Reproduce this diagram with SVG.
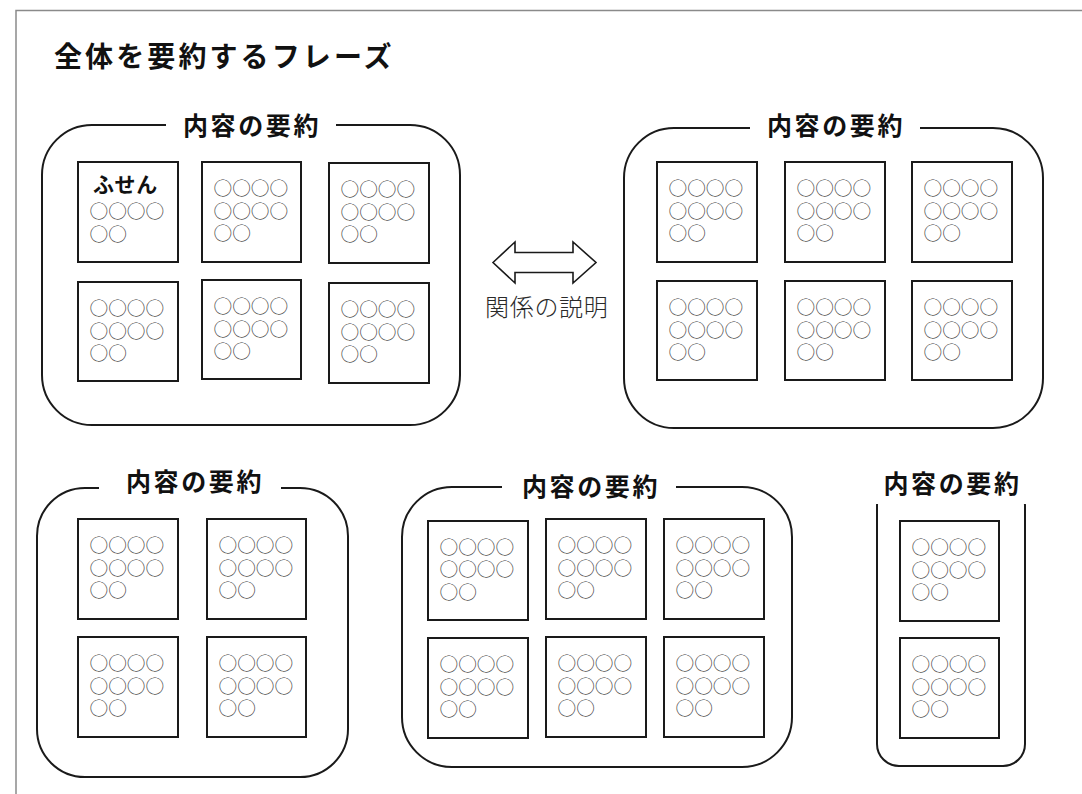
<svg xmlns="http://www.w3.org/2000/svg" width="1082" height="794" viewBox="0 0 1082 794">
<style>
  .frame { fill: none; stroke: #8a8a8a; stroke-width: 1.5; }
  .group { fill: none; stroke: #1a1a1a; stroke-width: 2; }
  .gap { fill: #ffffff; stroke: none; }
  .note { fill: #ffffff; stroke: #1a1a1a; stroke-width: 2; }
  .title { font-family: "Noto Sans CJK JP", "Noto Sans", sans-serif; font-size: 28px; font-weight: 700; fill: #111; letter-spacing: 3.1px; }
  .gtitle { font-family: "Noto Sans CJK JP", "Noto Sans", sans-serif; font-size: 25px; font-weight: 700; fill: #111; letter-spacing: 2.6px; text-anchor: middle; }
  .label { font-family: "Noto Sans CJK JP", "Noto Sans", sans-serif; font-size: 21px; font-weight: 700; fill: #111; letter-spacing: 0.6px; }
  .dots { font-family: "Noto Sans CJK JP", "Noto Sans", sans-serif; font-size: 18.7px; font-weight: 300; fill: #3a3a3a; }
  .rel { font-family: "Noto Sans CJK JP", "Noto Sans", sans-serif; font-size: 24px; font-weight: 300; fill: #2a2a2a; letter-spacing: 0.7px; }
  .arrow { fill: #ffffff; stroke: #1a1a1a; stroke-width: 1.6; stroke-linejoin: miter; }
</style>
<rect x="0" y="0" width="1082" height="794" fill="#ffffff"/>
<path class="frame" d="M16,794 L16,10.5 L1082,10.5"/>
<text class="title" x="54" y="66.5">全体を要約するフレーズ</text>

<g id="group1">
  <rect class="group" x="42" y="125" width="418" height="300" rx="50"/>
  <rect class="gap" x="166" y="110" width="170" height="30"/>
  <text class="gtitle" x="252" y="134.5">内容の要約</text>
  <g id="g1n1"><rect class="note" x="78" y="162" width="100" height="100"/>
    <text class="label" x="93" y="191.5">ふせん</text>
    <text class="dots" x="89.5" y="218">○○○○<tspan x="89.5" dy="22.5">○○</tspan></text></g>
  <g id="g1n2"><rect class="note" x="202" y="162" width="99" height="100"/>
    <text class="dots" x="213.5" y="195">○○○○<tspan x="213.5" dy="22.5">○○○○</tspan><tspan x="213.5" dy="22.5">○○</tspan></text></g>
  <g id="g1n3"><rect class="note" x="329" y="163" width="100" height="100"/>
    <text class="dots" x="340.5" y="196">○○○○<tspan x="340.5" dy="22.5">○○○○</tspan><tspan x="340.5" dy="22.5">○○</tspan></text></g>
  <g id="g1n4"><rect class="note" x="78" y="282" width="100" height="99"/>
    <text class="dots" x="89.5" y="315">○○○○<tspan x="89.5" dy="22.5">○○○○</tspan><tspan x="89.5" dy="22.5">○○</tspan></text></g>
  <g id="g1n5"><rect class="note" x="202" y="280" width="99" height="99"/>
    <text class="dots" x="213.5" y="313">○○○○<tspan x="213.5" dy="22.5">○○○○</tspan><tspan x="213.5" dy="22.5">○○</tspan></text></g>
  <g id="g1n6"><rect class="note" x="329" y="283" width="100" height="100"/>
    <text class="dots" x="340.5" y="316">○○○○<tspan x="340.5" dy="22.5">○○○○</tspan><tspan x="340.5" dy="22.5">○○</tspan></text></g>
</g>

<g id="connectors">
  <path class="arrow" d="M493,262.5 L515,242 L515,252.5 L573,252.5 L573,242 L596,262.5 L573,283 L573,272.5 L515,272.5 L515,283 Z"/>
  <text class="rel" x="485" y="315.5">関係の説明</text>
</g>

<g id="group2">
  <rect class="group" x="624" y="128" width="419" height="300" rx="50"/>
  <rect class="gap" x="750" y="112" width="170" height="30"/>
  <text class="gtitle" x="836" y="135">内容の要約</text>
  <g id="g2n1"><rect class="note" x="657" y="162" width="100" height="100"/>
    <text class="dots" x="668.5" y="195">○○○○<tspan x="668.5" dy="22.5">○○○○</tspan><tspan x="668.5" dy="22.5">○○</tspan></text></g>
  <g id="g2n2"><rect class="note" x="785" y="162" width="100" height="100"/>
    <text class="dots" x="796.5" y="195">○○○○<tspan x="796.5" dy="22.5">○○○○</tspan><tspan x="796.5" dy="22.5">○○</tspan></text></g>
  <g id="g2n3"><rect class="note" x="912" y="162" width="100" height="100"/>
    <text class="dots" x="923.5" y="195">○○○○<tspan x="923.5" dy="22.5">○○○○</tspan><tspan x="923.5" dy="22.5">○○</tspan></text></g>
  <g id="g2n4"><rect class="note" x="657" y="281" width="100" height="99"/>
    <text class="dots" x="668.5" y="314">○○○○<tspan x="668.5" dy="22.5">○○○○</tspan><tspan x="668.5" dy="22.5">○○</tspan></text></g>
  <g id="g2n5"><rect class="note" x="785" y="281" width="100" height="99"/>
    <text class="dots" x="796.5" y="314">○○○○<tspan x="796.5" dy="22.5">○○○○</tspan><tspan x="796.5" dy="22.5">○○</tspan></text></g>
  <g id="g2n6"><rect class="note" x="912" y="281" width="100" height="99"/>
    <text class="dots" x="923.5" y="314">○○○○<tspan x="923.5" dy="22.5">○○○○</tspan><tspan x="923.5" dy="22.5">○○</tspan></text></g>
</g>

<g id="group3">
  <rect class="group" x="37" y="488" width="311" height="289" rx="48"/>
  <rect class="gap" x="99" y="472" width="182" height="30"/>
  <text class="gtitle" x="195" y="491">内容の要約</text>
  <g id="g3n1"><rect class="note" x="78" y="519" width="100" height="100"/>
    <text class="dots" x="89.5" y="552">○○○○<tspan x="89.5" dy="22.5">○○○○</tspan><tspan x="89.5" dy="22.5">○○</tspan></text></g>
  <g id="g3n2"><rect class="note" x="207" y="519" width="99" height="100"/>
    <text class="dots" x="218.5" y="552">○○○○<tspan x="218.5" dy="22.5">○○○○</tspan><tspan x="218.5" dy="22.5">○○</tspan></text></g>
  <g id="g3n3"><rect class="note" x="78" y="637" width="100" height="100"/>
    <text class="dots" x="89.5" y="670">○○○○<tspan x="89.5" dy="22.5">○○○○</tspan><tspan x="89.5" dy="22.5">○○</tspan></text></g>
  <g id="g3n4"><rect class="note" x="207" y="637" width="99" height="100"/>
    <text class="dots" x="218.5" y="670">○○○○<tspan x="218.5" dy="22.5">○○○○</tspan><tspan x="218.5" dy="22.5">○○</tspan></text></g>
</g>

<g id="group4">
  <rect class="group" x="402" y="487" width="390" height="280" rx="50"/>
  <rect class="gap" x="502" y="472" width="174" height="30"/>
  <text class="gtitle" x="591" y="496">内容の要約</text>
  <g id="g4n1"><rect class="note" x="428" y="521" width="100" height="99"/>
    <text class="dots" x="439.5" y="553.5">○○○○<tspan x="439.5" dy="22.5">○○○○</tspan><tspan x="439.5" dy="22.5">○○</tspan></text></g>
  <g id="g4n2"><rect class="note" x="546" y="519" width="100" height="100"/>
    <text class="dots" x="557.5" y="552">○○○○<tspan x="557.5" dy="22.5">○○○○</tspan><tspan x="557.5" dy="22.5">○○</tspan></text></g>
  <g id="g4n3"><rect class="note" x="664" y="519" width="100" height="100"/>
    <text class="dots" x="675.5" y="552">○○○○<tspan x="675.5" dy="22.5">○○○○</tspan><tspan x="675.5" dy="22.5">○○</tspan></text></g>
  <g id="g4n4"><rect class="note" x="428" y="638" width="100" height="100"/>
    <text class="dots" x="439.5" y="671">○○○○<tspan x="439.5" dy="22.5">○○○○</tspan><tspan x="439.5" dy="22.5">○○</tspan></text></g>
  <g id="g4n5"><rect class="note" x="546" y="637" width="100" height="100"/>
    <text class="dots" x="557.5" y="670">○○○○<tspan x="557.5" dy="22.5">○○○○</tspan><tspan x="557.5" dy="22.5">○○</tspan></text></g>
  <g id="g4n6"><rect class="note" x="664" y="637" width="100" height="100"/>
    <text class="dots" x="675.5" y="670">○○○○<tspan x="675.5" dy="22.5">○○○○</tspan><tspan x="675.5" dy="22.5">○○</tspan></text></g>
</g>

<g id="group5">
  <rect class="group" x="877" y="483" width="148" height="283" rx="22"/>
  <rect class="gap" x="868" y="466" width="166" height="38"/>
  <text class="gtitle" x="952.5" y="492.5">内容の要約</text>
  <g id="g5n1"><rect class="note" x="900" y="521" width="99" height="100"/>
    <text class="dots" x="911.5" y="554">○○○○<tspan x="911.5" dy="22.5">○○○○</tspan><tspan x="911.5" dy="22.5">○○</tspan></text></g>
  <g id="g5n2"><rect class="note" x="900" y="638" width="99" height="100"/>
    <text class="dots" x="911.5" y="671">○○○○<tspan x="911.5" dy="22.5">○○○○</tspan><tspan x="911.5" dy="22.5">○○</tspan></text></g>
</g>
</svg>
